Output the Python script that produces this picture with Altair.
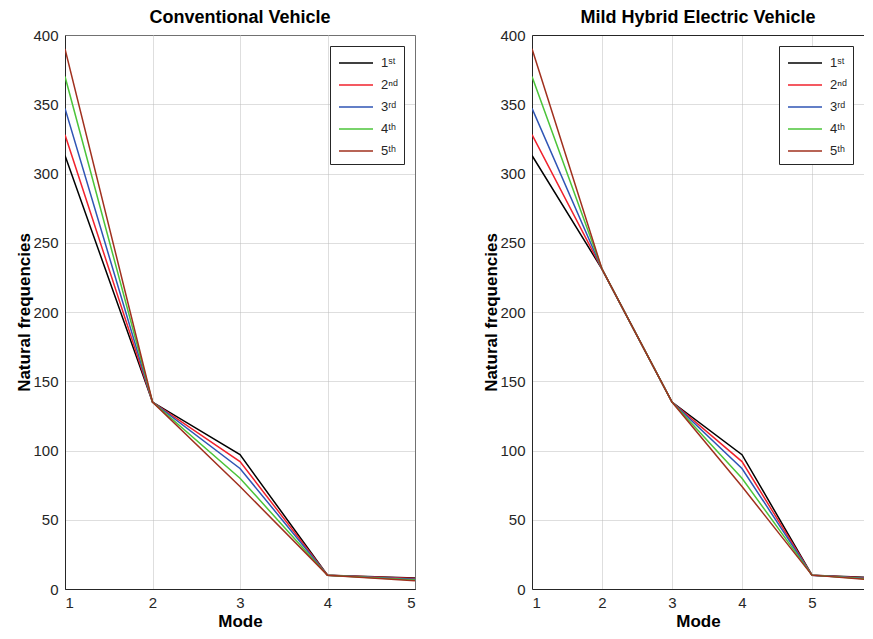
import altair as alt
import pandas as pd

orders = ["1ˢᵗ", "2ⁿᵈ", "3ʳᵈ", "4ᵗʰ", "5ᵗʰ"]
colors = ["#000000", "#f0222c", "#2f55b5", "#4cc43a", "#a0301e"]

modes_conv = [1, 2, 3, 4, 5]
conv_values = {
    "1ˢᵗ": [313, 135, 97, 10, 8.0],
    "2ⁿᵈ": [328, 135, 92, 10, 7.5],
    "3ʳᵈ": [347, 135, 87, 10, 7.0],
    "4ᵗʰ": [370, 135, 80, 10, 6.5],
    "5ᵗʰ": [390, 135, 74, 10, 6.0],
}

modes_mhev = [1, 2, 3, 4, 5, 6]
mhev_values = {
    "1ˢᵗ": [313, 231, 135, 97, 10, 8.0],
    "2ⁿᵈ": [328, 231, 135, 92, 10, 7.5],
    "3ʳᵈ": [347, 231, 135, 87, 10, 7.0],
    "4ᵗʰ": [370, 231, 135, 80, 10, 6.5],
    "5ᵗʰ": [390, 231, 135, 74, 10, 6.0],
}

y_ticks = [0, 50, 100, 150, 200, 250, 300, 350, 400]
x_ticks = [1, 2, 3, 4, 5]
right_xmax = 5.743


def to_df(modes, values):
    rows = []
    for k, o in enumerate(orders):
        for m, v in zip(modes, values[o]):
            rows.append({"mode": m, "value": v, "order": o, "k": k})
    return pd.DataFrame(rows)


df_conv = to_df(modes_conv, conv_values)
df_mhev = to_df(modes_mhev, mhev_values)

FONT = "Liberation Sans"
AX = "#262626"


def color_enc():
    return alt.Color(
        "order:N",
        scale=alt.Scale(domain=orders, range=colors),
        sort=orders,
        legend=alt.Legend(
            title=None,
            orient="top-right",
            offset=11,
            fillColor="white",
            strokeColor=AX,
            padding=6,
            symbolType="M-1.7,0H1.7",
            symbolSize=400,
            symbolStrokeWidth=1.5,
            symbolOffset=9,
            labelOffset=14,
            labelFontSize=13,
            labelFont=FONT,
            labelColor=AX,
            rowPadding=4,
        ),
    )


y_enc = alt.Y(
    "value:Q",
    scale=alt.Scale(domain=[0, 400], nice=False),
    axis=alt.Axis(values=y_ticks, title="Natural frequencies"),
)


def x_enc(domain):
    return alt.X(
        "mode:Q",
        scale=alt.Scale(domain=domain, nice=False, zero=False),
        axis=alt.Axis(values=x_ticks, format="d", title="Mode"),
    )


left = (
    alt.Chart(df_conv, title="Conventional Vehicle")
    .mark_line(strokeWidth=1.5, clip=True)
    .encode(x=x_enc([1, 5]), y=y_enc, color=color_enc(), order="k:Q")
    .properties(width=350, height=554)
)

right_lines = (
    alt.Chart(df_mhev)
    .mark_line(strokeWidth=1.5, clip=True)
    .encode(x=x_enc([1, right_xmax]), y=y_enc, color=color_enc(), order="k:Q")
)
right_top = (
    alt.Chart(df_mhev)
    .mark_line(opacity=0, clip=True)
    .encode(
        x=alt.X(
            "mode:Q",
            scale=alt.Scale(domain=[1, right_xmax], nice=False, zero=False),
            axis=alt.Axis(orient="top", labels=False, ticks=False, grid=False,
                          domain=True, title=None),
        ),
        y=alt.Y("value:Q", scale=alt.Scale(domain=[0, 400], nice=False)),
        detail="order:N",
    )
)
right = (
    alt.layer(right_lines, right_top, title="Mild Hybrid Electric Vehicle")
    .resolve_axis(x="independent")
    .properties(width=332, height=554, view=alt.ViewBackground(strokeOpacity=0))
)

chart = (
    alt.hconcat(left, right, spacing=66)
    .resolve_legend(color="independent")
    .resolve_scale(color="independent")
    .properties(padding={"left": 7, "top": 0, "right": 0, "bottom": 0})
    .configure_view(stroke=AX, strokeWidth=1)
    .configure_axis(
        labelFont=FONT,
        labelFontSize=15,
        labelColor=AX,
        titleFont=FONT,
        titleFontSize=17,
        titleFontWeight="bold",
        titleColor="#000000",
        domainColor=AX,
        domainWidth=1,
        ticks=False,
        gridColor="#bdbdbd",
        gridDash=[1, 1],
        gridWidth=1,
    )
    .configure_axisY(labelPadding=7, titlePadding=-1)
    .configure_axisX(labelPadding=6, titlePadding=3)
    .configure_title(font=FONT, fontSize=18, fontWeight="bold", color="#000000",
                     offset=1, anchor="middle")
)

chart.save("out.html", embed_options={"renderer": "svg", "actions": False})
